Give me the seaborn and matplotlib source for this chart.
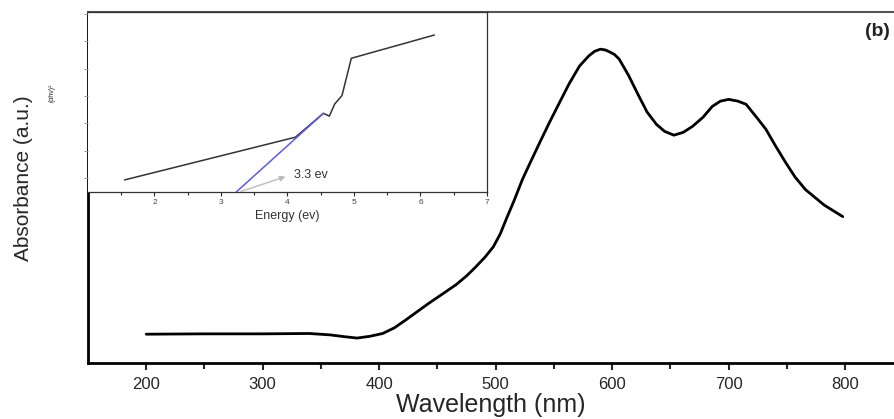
import numpy as np
import pandas as pd
import seaborn as sns
import matplotlib.pyplot as plt

# main absorbance spectrum
wavelength = [200, 250, 300, 340, 358, 370, 381, 392, 403, 413, 423, 433, 443, 455, 466,
              475, 483, 491, 498, 504, 509, 516, 523, 530, 538, 546, 555, 563, 572, 580,
              585, 590, 594, 598, 602, 606, 614, 623, 630, 638, 645, 653, 661, 669, 678,
              686, 693, 700, 708, 715, 724, 732, 740, 749, 757, 766, 782, 798]
absorbance = [0.082, 0.083, 0.083, 0.084, 0.080, 0.075, 0.071, 0.076, 0.084, 0.100, 0.123,
              0.147, 0.171, 0.198, 0.223, 0.248, 0.274, 0.302, 0.331, 0.368, 0.409, 0.464,
              0.523, 0.573, 0.629, 0.684, 0.743, 0.795, 0.846, 0.875, 0.888, 0.894, 0.892,
              0.886, 0.879, 0.866, 0.820, 0.760, 0.715, 0.680, 0.660, 0.649, 0.657, 0.674,
              0.700, 0.731, 0.746, 0.751, 0.746, 0.737, 0.700, 0.666, 0.620, 0.571, 0.530,
              0.494, 0.450, 0.417]

# inset: Tauc plot
energy = [1.55, 4.12, 4.54, 4.63, 4.71, 4.82, 4.96, 6.21]
tauc = [0.44, 2.0, 2.87, 2.77, 3.21, 3.52, 4.88, 5.73]
fit_energy = [3.23, 4.54]
fit_tauc = [0.0, 2.87]
band_gap = 3.3

main_df = pd.DataFrame({"wl": wavelength, "abs": absorbance})
tauc_df = pd.DataFrame({"E": energy, "y": tauc})
fit_df = pd.DataFrame({"E": fit_energy, "y": fit_tauc})

sns.set_style("ticks")
plt.rcParams["font.family"] = ["Liberation Sans", "DejaVu Sans"]

fig = plt.figure(figsize=(8.94, 4.19), dpi=100)
ax = fig.add_axes([0.0984, 0.1337, 0.9016, 0.8377])
sns.lineplot(data=main_df, x="wl", y="abs", ax=ax, color="black", linewidth=2.0)
ax.set_xlim(150, 842)
ax.set_ylim(0, 1.0)
ax.set_xticks([200, 300, 400, 500, 600, 700, 800])
ax.set_xticks([250, 350, 450, 550, 650, 750], minor=True)
ax.set_yticks([])
ax.tick_params(axis="x", which="major", length=5, width=1.5, labelsize=12, pad=5)
ax.tick_params(axis="x", which="minor", length=4, width=1.5)
ax.set_xlabel("Wavelength (nm)", fontsize=18, labelpad=1)
ax.set_ylabel("Absorbance (a.u.)", fontsize=15,
              family=["Liberation Sans Narrow", "Liberation Sans", "DejaVu Sans"])
ax.yaxis.set_label_coords(-0.068, 0.527)
for s in ["left", "bottom"]:
    ax.spines[s].set_linewidth(2)
    ax.spines[s].set_color("black")
ax.spines["top"].set_linewidth(1.5)
ax.spines["top"].set_color("#555555")
ax.spines["right"].set_visible(False)
ax.text(0.995, 0.945, "(b)", transform=ax.transAxes, ha="right", va="center",
        fontsize=14, fontweight="bold", color="#222222")

# inset
ins = fig.add_axes([0.0984, 0.5418, 0.4463, 0.4296])
ins.set_facecolor("white")
sns.lineplot(data=tauc_df, x="E", y="y", ax=ins, color="#333333", linewidth=1.1)
sns.lineplot(data=fit_df, x="E", y="y", ax=ins, color="#5a5af0", linewidth=1.1)
ins.annotate("", xy=(3.97, 0.56), xytext=(band_gap, 0.02),
             arrowprops=dict(arrowstyle="-|>", color="#bbbbbb", lw=1.0,
                             mutation_scale=8, shrinkA=0, shrinkB=0))
ins.text(4.1, 0.62, "3.3 ev", fontsize=9, va="center", ha="left", color="#333333")
ins.set_xlim(1, 7)
ins.set_ylim(0, 6.57)
ins.set_xticks([2, 3, 4, 5, 6, 7])
ins.set_xticks([1.5, 2.5, 3.5, 4.5, 5.5, 6.5], minor=True)
ins.set_yticks(np.arange(0.5, 6.6, 1.0))
ins.set_yticklabels([])
ins.tick_params(axis="x", which="major", length=3, width=0.8, labelsize=6,
                labelcolor="#444444", pad=2)
ins.tick_params(axis="x", which="minor", length=2, width=0.8)
ins.tick_params(axis="y", length=3, width=0.6, color="#888888")
ins.set_xlabel("Energy (ev)", fontsize=9, labelpad=3, color="#333333")
ins.set_ylabel("(αhν)²", fontsize=5)
ins.yaxis.set_label_coords(-0.08, 0.55)
for s in ["left", "bottom", "right", "top"]:
    ins.spines[s].set_linewidth(0.9)
    ins.spines[s].set_color("#333333")
ins.spines["left"].set_visible(False)

fig.savefig("out.png", dpi=100)
